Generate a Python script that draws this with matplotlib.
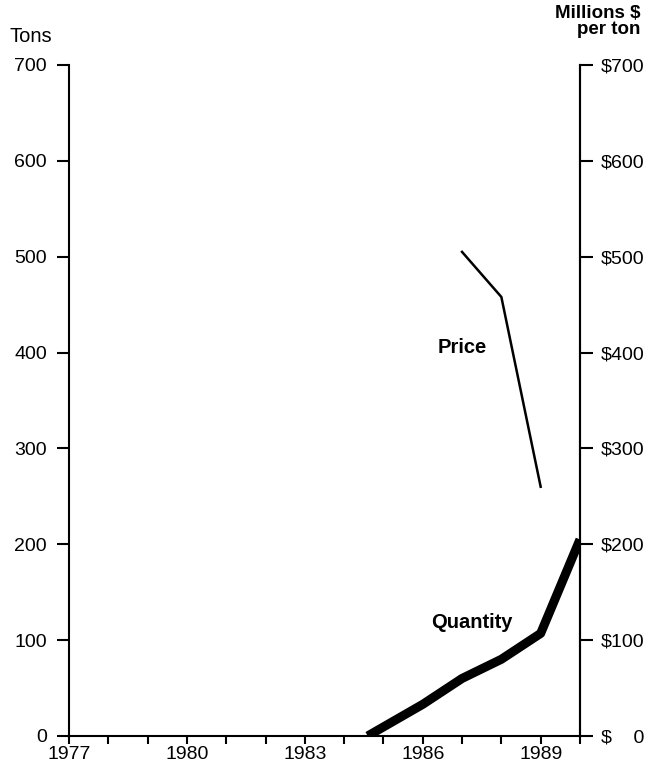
import matplotlib
matplotlib.use("Agg")
import matplotlib.pyplot as plt

plt.rcParams['font.family'] = ['Liberation Sans', 'DejaVu Sans']

# Data
quantity_years = [1984.6, 1986, 1987, 1988, 1989, 1990]
quantity_tons = [0, 33, 60, 80, 107, 205]
price_years = [1987, 1988, 1989]
price_musd = [505, 458, 260]

year_ticks = list(range(1977, 1991))
year_labels = [str(y) if y in (1977, 1980, 1983, 1986, 1989) else '' for y in year_ticks]
y_ticks = [0, 100, 200, 300, 400, 500, 600, 700]
left_labels = [str(v) for v in y_ticks]
right_labels = ['$    0'] + ['$' + str(v) for v in y_ticks[1:]]

fig = plt.figure(figsize=(6.48, 7.70), dpi=100)
ax = fig.add_axes([0.1065, 0.0442, 0.7885, 0.8714])

ax.plot(quantity_years, quantity_tons, color='black', lw=6.5, solid_capstyle='butt', solid_joinstyle='round')
ax.plot(price_years, price_musd, color='black', lw=1.8, solid_joinstyle='miter')

ax.set_xlim(1977, 1990)
ax.set_ylim(0, 700)
ax.set_xticks(year_ticks)
ax.set_xticklabels(year_labels, fontsize=14)
ax.set_yticks(y_ticks)
ax.set_yticklabels(left_labels, fontsize=14)

ax.spines['top'].set_visible(False)
for s in ['left', 'right', 'bottom']:
    ax.spines[s].set_linewidth(1.5)

ax.tick_params(axis='y', direction='out', length=9, width=1.5, pad=7)
ax.tick_params(axis='x', direction='out', length=6, width=1.5, pad=1)

ax2 = ax.twinx()
ax2.set_ylim(0, 700)
ax2.set_yticks(y_ticks)
ax2.set_yticklabels(right_labels, fontsize=14)
ax2.tick_params(axis='y', direction='out', length=9, width=1.5, pad=6)
for s in ['top', 'left', 'bottom']:
    ax2.spines[s].set_visible(False)
ax2.spines['right'].set_linewidth(1.5)

ax.text(1987.0, 405, 'Price', fontsize=14.5, fontweight='bold', ha='center', va='center')
ax.text(1987.25, 118, 'Quantity', fontsize=14.5, fontweight='bold', ha='center', va='center')

fig.text(0.015, 0.953, 'Tons', fontsize=14.5, ha='left', va='center')
fig.text(0.988, 0.972, 'Millions $\nper ton', fontsize=13.5, fontweight='bold', ha='right', va='center', linespacing=0.9)

fig.savefig('out.png', dpi=100)
